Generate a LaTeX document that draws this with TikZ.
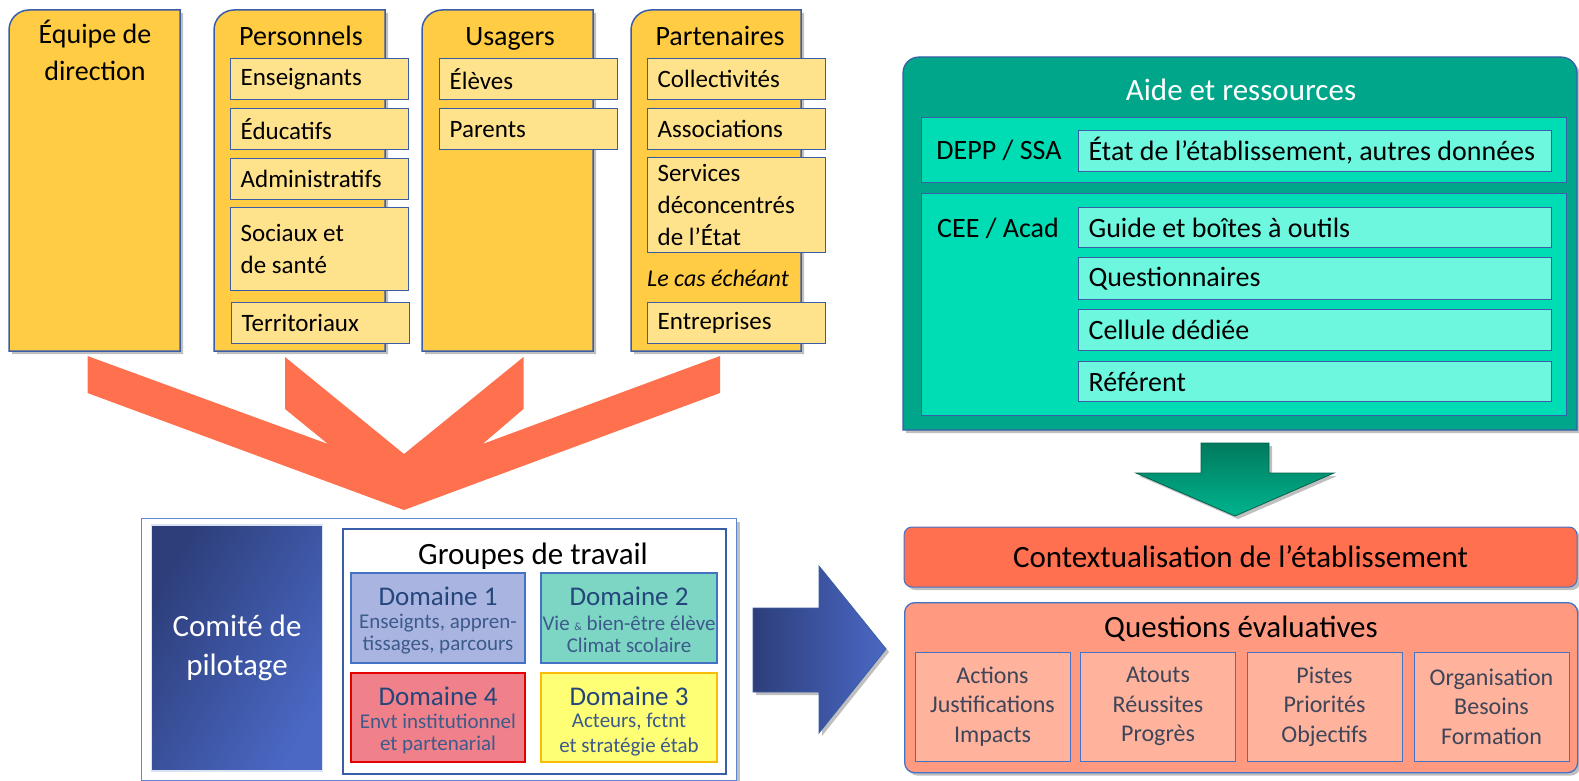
\documentclass[tikz,border=0pt]{standalone}
\usepackage{fontspec}
\setmainfont{Carlito}
\usetikzlibrary{shadows}

\definecolor{colYellow}{HTML}{FFCC44}
\definecolor{colPale}{HTML}{FFE28C}
\definecolor{colEdge}{HTML}{3A5DA8}
\definecolor{tealDark}{HTML}{00A68A}
\definecolor{tealMid}{HTML}{00DDB4}
\definecolor{tealLight}{HTML}{6CF7DE}
\definecolor{arrOrange}{HTML}{FF714E}
\definecolor{ctxOrange}{HTML}{FF7050}
\definecolor{qSalmon}{HTML}{FF9A80}
\definecolor{qPale}{HTML}{FFB29C}
\definecolor{navyDark}{HTML}{2D3E7A}
\definecolor{navyLight}{HTML}{4A68C4}
\definecolor{greenTop}{HTML}{007A5E}
\definecolor{greenBot}{HTML}{00B48E}
\definecolor{domBlue}{HTML}{A9B5E0}
\definecolor{domTeal}{HTML}{7DD6C4}
\definecolor{domRed}{HTML}{F0808A}
\definecolor{domYellow}{HTML}{FFFF75}
\definecolor{domEdge}{HTML}{4472C4}
\definecolor{domTitle}{HTML}{24467A}
\definecolor{domText}{HTML}{3C5A8A}
\definecolor{qText}{HTML}{3E4558}

\tikzset{softshadow/.style={drop shadow={shadow xshift=3pt,shadow yshift=-3pt,opacity=0.25,fill=black}},
    colbox/.style={fill=colYellow,draw=colEdge,line width=1.5pt,softshadow},
    colhead/.style={font=\fontsize{28}{37}\selectfont,align=flush center,inner sep=0pt},
    subbox/.style={fill=colPale,draw=colEdge,line width=1.3pt,anchor=north west,
        minimum height=41pt,text width=158pt,inner xsep=10pt,inner ysep=3pt,align=flush left,
        font=\fontsize{25}{32}\selectfont},
    tealbox/.style={fill=tealMid,draw=colEdge,line width=1.2pt,anchor=north west},
    aidebox/.style={fill=tealLight,draw=colEdge,line width=1.2pt,anchor=north west,
        minimum height=41pt,text width=453pt,inner xsep=10pt,inner ysep=3pt,align=flush left,
        font=\fontsize{28}{32}\selectfont},
    biglabel/.style={font=\fontsize{31}{36}\selectfont,anchor=base,inner sep=0pt},
    dombox/.style={minimum width=174pt,minimum height=90pt,line width=1.3pt,inner sep=0pt},
    domtitle/.style={font=\fontsize{27}{30}\selectfont,text=domTitle,anchor=base,inner sep=0pt},
    domsub/.style={font=\fontsize{21}{22}\selectfont,text=domText,align=flush center,inner sep=0pt},
    qsub/.style={fill=qPale,draw=domEdge,line width=1pt,minimum width=155pt,minimum height=109pt,
        align=flush center,text=qText,font=\fontsize{24}{29.5}\selectfont}}

\begin{document}
\begin{tikzpicture}[x=1pt,y=-1pt]
    \useasboundingbox (0,0) rectangle (1579,781);

    % acteurs
    \draw[colbox] (9,351) -- (9,30) .. controls (9,19) and (18,10) .. (29,10) -- (180,10) -- (180,351) -- cycle;
    \draw[colbox] (214,351) -- (214,30) .. controls (214,19) and (223,10) .. (234,10) -- (385,10) -- (385,351) -- cycle;
    \draw[colbox] (422,351) -- (422,30) .. controls (422,19) and (431,10) .. (442,10) -- (593,10) -- (593,351) -- cycle;
    \draw[colbox] (631,351) -- (631,30) .. controls (631,19) and (640,10) .. (651,10) -- (801,10) -- (801,351) -- cycle;

    \node[colhead] (equipe) at (95,50) {Équipe de\\direction};
    \node[colhead,anchor=base] (perso) at (301,46) {Personnels};
    \node[colhead,anchor=base] (usagers) at (510,46) {Usagers};
    \node[colhead,anchor=base] (parten) at (720,46) {Partenaires};

    \node[subbox] (ens) at (230,58) {Enseignants};
    \node[subbox] (educ) at (230,108) {Éducatifs};
    \node[subbox] (admin) at (230,158) {Administratifs};
    \node[subbox,minimum height=83pt] (sociaux) at (230,207) {Sociaux et\\de santé};
    \node[subbox] (territ) at (231,302) {Territoriaux};

    \node[subbox] (eleves) at (439,58) {Élèves};
    \node[subbox] (parents) at (439,108) {Parents};

    \node[subbox] (collect) at (647,58) {Collectivités};
    \node[subbox] (assoc) at (647,108) {Associations};
    \node[subbox,minimum height=95pt] (services) at (647,157) {Services\\déconcentrés\\de l’État};
    \node[font=\fontsize{24}{28}\selectfont\itshape,anchor=base west,inner sep=0pt] (casech) at (647,286) {Le cas échéant};
    \node[subbox] (entrep) at (647,302) {Entreprises};

    % grande fleche
    \fill[arrOrange] (87.5,356) -- (328,444) -- (285,409) -- (285,357) -- (404,454) -- (523.5,357)
        -- (523.5,409) -- (482.6,444) -- (720,356) -- (720,393) -- (404,510) -- (87.5,393) -- cycle;

    % aide et ressources
    \draw[fill=tealDark,draw=colEdge,line width=1.2pt,softshadow] (903,430) -- (903,73)
        .. controls (903,64) and (910,57) .. (919,57) -- (1561,57)
        .. controls (1570,57) and (1577,64) .. (1577,73) -- (1577,430) -- cycle;
    \node[biglabel,text=white] (aide) at (1241,101) {Aide et ressources};
    \node[tealbox,minimum width=645pt,minimum height=65pt] (depp) at (921,117) {};
    \node[tealbox,minimum width=645pt,minimum height=222pt] (cee) at (921,193) {};
    \node[font=\fontsize{28}{32}\selectfont,anchor=base,inner sep=0pt] (deppt) at (999,160) {DEPP / SSA};
    \node[font=\fontsize{28}{32}\selectfont,anchor=base,inner sep=0pt] (ceet) at (998,237) {CEE / Acad};
    \node[aidebox] (etat) at (1078,130) {État de l’établissement, autres données};
    \node[aidebox,minimum height=40pt] (guide) at (1078,207) {Guide et boîtes à outils};
    \node[aidebox,minimum height=42pt] (quest) at (1078,257) {Questionnaires};
    \node[aidebox] (cellule) at (1078,309) {Cellule dédiée};
    \node[aidebox,minimum height=40pt] (referent) at (1078,361) {Référent};

    \draw[draw=greenTop!80!black,line width=0.8pt,top color=greenTop,bottom color=greenBot,softshadow]
        (1201,443) -- (1269,443) -- (1269,473) -- (1334,473) -- (1235,516) -- (1136,473) -- (1201,473) -- cycle;

    % contexte et questions
    \node[draw=domEdge,line width=1pt,fill=ctxOrange,rounded corners=8pt,minimum width=673pt,minimum height=60pt,
        font=\fontsize{31}{36}\selectfont,softshadow] (ctx) at (1240.5,557) {Contextualisation de l’établissement};
    \node[draw=domEdge,line width=1.3pt,fill=qSalmon,rounded corners=10pt,anchor=north west,
        minimum width=673pt,minimum height=170pt,softshadow] (questions) at (904,602) {};
    \node[biglabel] (questionst) at (1241,637) {Questions évaluatives};
    \node[qsub] (q1) at (992.5,706.5) {Actions\\Justifications\\Impacts};
    \node[qsub] (q2) at (1158,706.5) {Atouts\\Réussites\\Progrès};
    \node[qsub] (q3) at (1324.5,706.5) {Pistes\\Priorités\\Objectifs};
    \node[qsub] (q4) at (1491.5,706.5) {Organisation\\Besoins\\Formation};

    % pilotage
    \node[draw=domEdge!85!white,line width=1.2pt,fill=white,anchor=north west,
        minimum width=595pt,minimum height=262pt,softshadow] (cadre) at (141,518) {};
    \node[draw=white!80!domEdge,line width=1.5pt,left color=navyDark,right color=navyLight,shading angle=60,
        minimum width=171pt,minimum height=246pt,text=white,align=flush center,
        font=\fontsize{31}{39}\selectfont] (copil) at (237,648) {Comité de\\pilotage};
    \node[draw=colEdge,line width=1.5pt,anchor=north west,minimum width=383pt,minimum height=245pt] (groupes) at (342,528) {};
    \node[biglabel] (groupest) at (533,564) {Groupes de travail};

    \node[dombox,fill=domBlue,draw=domEdge] (dom1) at (438,618) {};
    \node[domtitle] (dom1t) at ([yshift=-33pt]dom1.north) {Domaine 1};
    \node[domsub] (dom1s) at ([yshift=-62pt]dom1.north) {Enseignts, appren-\\tissages, parcours};

    \node[dombox,fill=domTeal,draw=domEdge,minimum width=176pt] (dom2) at (629,618) {};
    \node[domtitle] (dom2t) at ([yshift=-33pt]dom2.north) {Domaine 2};
    \node[domsub] (dom2s) at ([yshift=-62pt]dom2.north) {Vie {\fontsize{11}{11}\selectfont\&} bien-être élève\\Climat scolaire};

    \node[dombox,fill=domRed,draw=red!90!black,minimum height=89pt] (dom4) at (438,717.5) {};
    \node[domtitle] (dom4t) at ([yshift=-33pt]dom4.north) {Domaine 4};
    \node[domsub] (dom4s) at ([yshift=-62pt]dom4.north) {Envt institutionnel\\et partenarial};

    \node[dombox,fill=domYellow,draw=yellow!50!orange,minimum width=176pt,minimum height=89pt] (dom3) at (629,717.5) {};
    \node[domtitle] (dom3t) at ([yshift=-33pt]dom3.north) {Domaine 3};
    \node[domsub,font=\fontsize{21}{25}\selectfont] (dom3s) at ([yshift=-62pt]dom3.north) {Acteurs, fctnt\\et stratégie étab};

    \draw[draw=colEdge,line width=0.8pt,left color=navyDark,right color=navyLight,softshadow]
        (753,608) -- (819,608) -- (819,566) -- (886,649) -- (819,733) -- (819,692) -- (753,692) -- cycle;
\end{tikzpicture}
\end{document}
